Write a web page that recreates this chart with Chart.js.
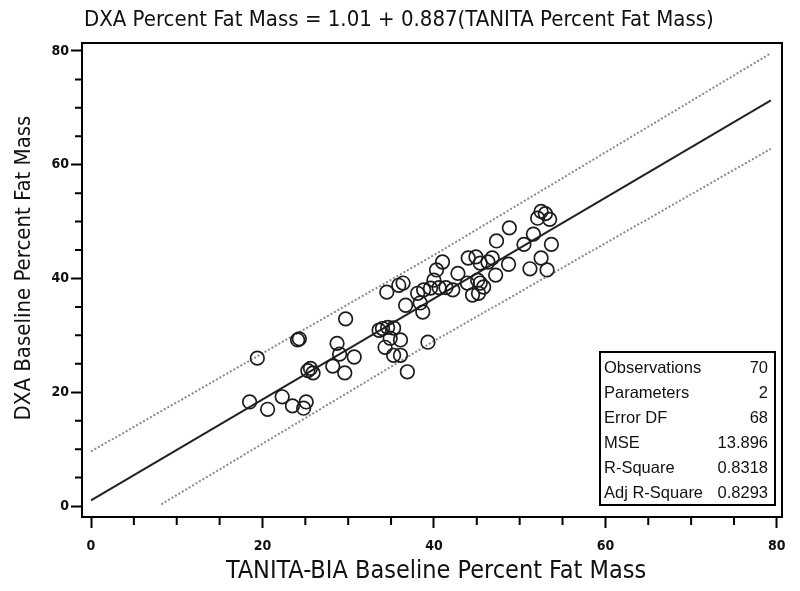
<!DOCTYPE html>
<html>
<head>
<meta charset="utf-8">
<script src="https://cdn.jsdelivr.net/npm/chart.js@4.4.1/dist/chart.umd.min.js"></script>
<style>
  html, body { margin: 0; padding: 0; background: #fff; }
  canvas { display: block; }
</style>
</head>
<body>
<canvas id="grafico" width="800" height="591"></canvas>
<script>
const tanita = [18.5, 19.4, 20.6, 22.3, 23.5, 24.1, 24.3, 24.8, 25.1, 25.3,
  25.6, 25.9, 28.2, 28.7, 29.0, 29.6, 29.7, 30.7, 33.6, 34.0,
  34.6, 35.3, 34.3, 34.9, 36.1, 35.3, 36.1, 39.3, 36.9, 34.5,
  35.9, 36.4, 36.7, 38.1, 38.8, 39.6, 40.0, 38.7, 41.0, 40.3,
  42.8, 44.0, 44.9, 45.4, 45.1, 44.5, 45.2, 45.4, 42.2, 43.9,
  40.6, 41.4, 38.4, 52.5, 53.0, 52.1, 53.5, 48.8, 47.3, 51.6,
  50.5, 53.7, 52.5, 51.2, 53.2, 48.7, 46.8, 47.2, 46.3, 45.8];
const dxa = [18.3, 26.0, 17.0, 19.2, 17.6, 29.2, 29.4, 17.2, 18.3, 23.8,
  24.2, 23.4, 24.6, 28.6, 26.7, 23.4, 32.9, 26.2, 30.9, 31.2,
  31.4, 31.3, 27.9, 29.5, 29.2, 26.5, 26.5, 28.8, 23.6, 37.6,
  38.8, 39.2, 35.3, 37.4, 38.0, 38.3, 39.7, 34.1, 42.9, 41.5,
  40.9, 43.6, 43.8, 42.7, 39.7, 37.1, 37.4, 39.2, 38.0, 39.2,
  38.4, 38.4, 35.7, 51.8, 51.4, 50.6, 50.4, 48.9, 46.6, 47.8,
  46.0, 46.0, 43.6, 41.7, 41.5, 42.5, 43.6, 40.6, 42.9, 38.5];

const retaX = [0, 79.3];
const retaY = [1.0, 71.3];
const limSupX = [0, 40, 79.3];
const limSupY = [9.6, 44.1, 79.6];
const limInfX = [8.2, 40, 79.3];
const limInfY = [0.3, 29.0, 62.8];

// Ticks dos eixos
const ticksEixo = [0, 5, 10, 15, 20, 25, 30, 35, 40, 45, 50, 55, 60, 65, 70, 75, 80];
const ticksMaiores = [0, 20, 40, 60, 80];

// Quadro de estatísticas
const estatNomes = ['Observations', 'Parameters', 'Error DF', 'MSE', 'R-Square', 'Adj R-Square'];
const estatValores = ['70', '2', '68', '13.896', '0.8318', '0.8293'];

const titulo = 'DXA Percent Fat Mass = 1.01 + 0.887(TANITA Percent Fat Mass)';
const tituloX = 'TANITA-BIA Baseline Percent Fat Mass';
const tituloY = 'DXA Baseline Percent Fat Mass';

const pares = (xs, ys) => xs.map((x, i) => ({ x: x, y: ys[i] }));
const fonteCond = '"DejaVu Sans Condensed", "DejaVu Sans", sans-serif';

// Moldura, ticks menores, títulos e quadro de estatísticas
const extras = {
  id: 'extras',
  afterDraw(chart) {
    const ctx = chart.ctx;
    const a = chart.chartArea;
    const sx = chart.scales.x, sy = chart.scales.y;
    ctx.save();
    ctx.strokeStyle = '#000';
    ctx.lineWidth = 2;
    ctx.strokeRect(a.left, a.top, a.right - a.left, a.bottom - a.top);

    // ticks menores
    ctx.beginPath();
    ticksEixo.forEach(v => {
      if (ticksMaiores.includes(v)) return;
      const px = sx.getPixelForValue(v);
      ctx.moveTo(px, a.bottom + 1);
      ctx.lineTo(px, a.bottom + 8);
      const py = sy.getPixelForValue(v);
      ctx.moveTo(a.left - 1, py);
      ctx.lineTo(a.left - 7, py);
    });
    ctx.stroke();

    // títulos
    ctx.fillStyle = '#111';
    ctx.textBaseline = 'middle';
    ctx.font = '22px ' + fonteCond;
    ctx.textAlign = 'left';
    ctx.fillText(titulo, 84, 20);
    ctx.font = '25px ' + fonteCond;
    ctx.textAlign = 'center';
    ctx.fillText(tituloX, 436, 571);
    ctx.font = '22px ' + fonteCond;
    ctx.translate(24, 268);
    ctx.rotate(-Math.PI / 2);
    ctx.fillText(tituloY, 0, 0);
    ctx.setTransform(1, 0, 0, 1, 0, 0);

    // quadro de estatísticas
    const bx = 600, by = 352, bw = 175, bh = 153;
    ctx.fillStyle = '#fff';
    ctx.fillRect(bx, by, bw, bh);
    ctx.lineWidth = 2;
    ctx.strokeRect(bx, by, bw, bh);
    ctx.fillStyle = '#111';
    ctx.font = '16.5px "Liberation Sans", Arial, sans-serif';
    estatNomes.forEach((nome, i) => {
      const y = by + 16 + i * 25;
      ctx.textAlign = 'left';
      ctx.fillText(nome, bx + 4, y);
      ctx.textAlign = 'right';
      ctx.fillText(estatValores[i], bx + bw - 7, y);
    });
    ctx.restore();
  }
};

const eixoComum = {
  border: { display: false },
  grid: {
    drawOnChartArea: false,
    tickLength: 11,
    tickWidth: 2,
    tickColor: c => ticksMaiores.includes(c.tick && c.tick.value) ? '#000' : 'rgba(0,0,0,0)'
  },
  afterBuildTicks: s => { s.ticks = ticksEixo.map(v => ({ value: v })); },
  ticks: {
    autoSkip: false,
    color: '#111',
    font: { family: fonteCond, size: 14, weight: 'bold' },
    callback: v => ticksMaiores.includes(v) ? String(v) : ''
  }
};

new Chart(document.getElementById('grafico').getContext('2d'), {
  type: 'scatter',
  data: {
    datasets: [
      {
        label: 'Observações',
        data: pares(tanita, dxa),
        pointStyle: 'circle',
        pointRadius: 6.8,
        pointBorderWidth: 1.7,
        borderColor: '#1c1c1c',
        backgroundColor: 'rgba(0,0,0,0)'
      },
      {
        label: 'Regressão',
        data: pares(retaX, retaY),
        showLine: true,
        borderColor: '#222',
        borderWidth: 2,
        pointRadius: 0
      },
      {
        label: 'Limite superior',
        data: pares(limSupX, limSupY),
        showLine: true,
        borderColor: '#8a8a8a',
        borderWidth: 2,
        borderDash: [2, 2],
        pointRadius: 0
      },
      {
        label: 'Limite inferior',
        data: pares(limInfX, limInfY),
        showLine: true,
        borderColor: '#8a8a8a',
        borderWidth: 2,
        borderDash: [2, 2],
        pointRadius: 0
      }
    ]
  },
  options: {
    responsive: false,
    animation: false,
    layout: { padding: { top: 43, right: 18, left: 0, bottom: 0 } },
    plugins: { legend: { display: false }, tooltip: { enabled: false } },
    scales: {
      x: Object.assign({}, eixoComum, {
        min: -1.05, max: 80.6,
        afterFit: s => { s.height = 74; },
        ticks: Object.assign({}, eixoComum.ticks, { padding: 10, maxRotation: 0 })
      }),
      y: Object.assign({}, eixoComum, {
        min: -1.93, max: 81.4,
        afterFit: s => { s.width = 82; },
        ticks: Object.assign({}, eixoComum.ticks, { padding: 2 })
      })
    }
  },
  plugins: [extras]
});
</script>
</body>
</html>
